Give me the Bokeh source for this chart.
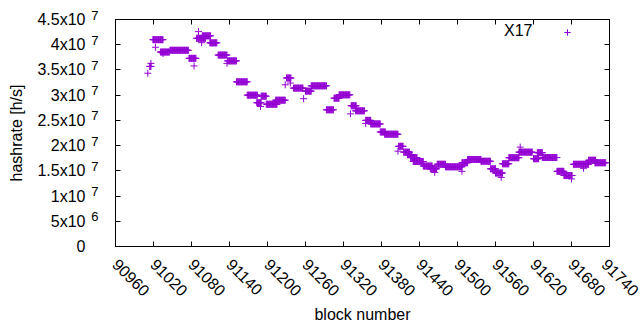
import math
from bokeh.plotting import figure
from bokeh.models import (Range1d, LinearAxis, FixedTicker, CustomJSTickFormatter,
                          ColumnDataSource, Legend, LegendItem)
from bokeh.embed import file_html
from bokeh.resources import INLINE

# ---- data ----
# runs of consecutive blocks with (approximately) the same hashrate, in MH/s
run_start = [91015, 91019, 91031, 91046, 91076, 91088, 91097, 91109, 91122, 91137,
             91151, 91168, 91183, 91190, 91198, 91213, 91230, 91241, 91260, 91269,
             91293, 91305, 91313, 91332, 91339, 91355, 91363, 91378, 91385, 91407,
             91415, 91421, 91426, 91430, 91446, 91457, 91468, 91481, 91507, 91516,
             91537, 91552, 91560, 91571, 91581, 91597, 91620, 91626, 91634, 91657,
             91668, 91683, 91707, 91717]
run_end = [91016, 91035, 91045, 91075, 91087, 91102, 91110, 91120, 91136, 91151,
           91168, 91184, 91190, 91198, 91215, 91228, 91237, 91256, 91269, 91293,
           91304, 91313, 91330, 91340, 91353, 91363, 91378, 91386, 91406, 91414,
           91424, 91428, 91436, 91446, 91460, 91467, 91481, 91507, 91516, 91537,
           91552, 91560, 91571, 91581, 91597, 91618, 91628, 91634, 91657, 91668,
           91681, 91707, 91718, 91734]
run_hashrate_M = [35.7, 41.0, 38.55, 38.9, 37.3, 41.27, 41.76, 40.37, 37.95, 36.8,
                  32.65, 30.0, 28.5, 29.8, 28.2, 29.0, 33.4, 31.4, 30.8, 31.85,
                  27.1, 29.4, 30.07, 27.9, 26.9, 25.0, 24.3, 22.7, 22.26, 19.86,
                  18.7, 18.2, 17.64, 16.85, 15.95, 15.4, 16.3, 15.8, 16.6, 17.25,
                  16.9, 15.4, 14.57, 16.4, 17.6, 18.7, 17.4, 18.6, 17.64, 14.9,
                  14.07, 16.3, 17.1, 16.6]
# isolated blocks
single_block = [91011, 91014, 91016, 91023, 91035, 91084, 91091, 91096, 91136, 91189,
                91228, 91236, 91257, 91331, 91355, 91406, 91464, 91507, 91569, 91599,
                91680, 91699]
single_hashrate_M = [34.35, 35.7, 36.3, 39.5, 38.25, 35.8, 42.6, 40.4, 36.3, 27.75,
                     32.05, 32.4, 29.3, 26.3, 24.4, 18.9, 14.7, 14.9, 13.7, 19.7,
                     13.4, 15.5]

series_name = "X17"
x_ticks = [90960, 91020, 91080, 91140, 91200, 91260, 91320, 91380, 91440, 91500,
           91560, 91620, 91680, 91740]
y_ticks = [0, 5e6, 1e7, 1.5e7, 2e7, 2.5e7, 3e7, 3.5e7, 4e7, 4.5e7]
y_tick_mantissa = ["0", "5x10", "1x10", "1.5x10", "2x10", "2.5x10", "3x10", "3.5x10", "4x10", "4.5x10"]
y_tick_exponent = ["", "6", "7", "7", "7", "7", "7", "7", "7", "7"]

# ---- expand runs into per-block points ----
blocks, hashrate = [], []
for s, e, v in zip(run_start, run_end, run_hashrate_M):
    for b in range(s, e + 1):
        blocks.append(b)
        hashrate.append(v * 1e6)
for b, v in zip(single_block, single_hashrate_M):
    blocks.append(b)
    hashrate.append(v * 1e6)

FONT = "Liberation Sans"
FS = "16px"
COLOR = "#9400D3"

p = figure(width=640, height=330, output_backend="svg", toolbar_location=None,
           x_range=Range1d(x_ticks[0], x_ticks[-1]), y_range=Range1d(y_ticks[0], y_ticks[-1]),
           y_axis_location=None,
           min_border_left=115, min_border_right=31, min_border_top=19, min_border_bottom=84)
p.grid.visible = False
p.outline_line_color = "black"
p.outline_line_width = 1
p.background_fill_color = "white"
p.border_fill_color = "white"

# bottom axis
xa = p.xaxis[0]
xa.ticker = FixedTicker(ticks=x_ticks)
xa.major_label_orientation = -math.pi / 4
xa.major_label_text_font = FONT
xa.major_label_text_font_size = FS
xa.major_label_text_color = "black"
xa.major_label_standoff = 15
xa.major_tick_in = 5
xa.major_tick_out = 0
xa.minor_tick_in = 0
xa.minor_tick_out = 0
xa.axis_line_color = "black"
xa.major_tick_line_color = "black"
xa.axis_label = "block number"
xa.axis_label_text_font = FONT
xa.axis_label_text_font_size = FS
xa.axis_label_text_font_style = "normal"
xa.axis_label_text_color = "black"
xa.axis_label_standoff = 2

blank = CustomJSTickFormatter(code="return ''")

# left side, from the frame outward:
# 1) ticks only, 2) superscript exponents (raised via an empty 2nd line), 3) mantissas + title
ya_ticks = LinearAxis(ticker=FixedTicker(ticks=y_ticks), formatter=blank,
                      major_label_text_font_size="0px", major_label_standoff=0,
                      major_tick_in=5, major_tick_out=0, minor_tick_in=0, minor_tick_out=0,
                      axis_line_color="black", major_tick_line_color="black")
p.add_layout(ya_ticks, "left")

exp_overrides = {t: (e + "\n " if e else "") for t, e in zip(y_ticks, y_tick_exponent)}
ya_exp = LinearAxis(ticker=FixedTicker(ticks=y_ticks), major_label_overrides=exp_overrides,
                    major_label_text_font=FONT, major_label_text_font_size="13px",
                    major_label_text_line_height=0.6,
                    major_label_text_color="black",
                    major_label_standoff=17,
                    major_tick_in=0, major_tick_out=0, minor_tick_in=0, minor_tick_out=0,
                    axis_line_color=None, major_tick_line_color=None)
p.add_layout(ya_exp, "left")

mant_overrides = {t: m for t, m in zip(y_ticks, y_tick_mantissa)}
ya_mant = LinearAxis(ticker=FixedTicker(ticks=y_ticks), major_label_overrides=mant_overrides,
                     major_label_text_font=FONT, major_label_text_font_size=FS,
                     major_label_text_color="black",
                     major_label_standoff=3,
                     major_tick_in=0, major_tick_out=0, minor_tick_in=0, minor_tick_out=0,
                     axis_line_color=None, major_tick_line_color=None,
                     axis_label="hashrate [h/s]", axis_label_text_font=FONT,
                     axis_label_text_font_size=FS, axis_label_text_font_style="normal",
                     axis_label_text_color="black", axis_label_standoff=9)
p.add_layout(ya_mant, "left")

# mirrored ticks (top/right)
for loc, tk in (("above", x_ticks), ("right", y_ticks)):
    ax = LinearAxis(ticker=FixedTicker(ticks=tk), formatter=blank,
                    major_label_text_font_size="0px", major_label_standoff=0,
                    major_tick_in=5, major_tick_out=0, minor_tick_in=0, minor_tick_out=0,
                    axis_line_color="black")
    p.add_layout(ax, loc)

# data
src = ColumnDataSource(dict(block=blocks, hashrate=hashrate))
r = p.scatter(x="block", y="hashrate", source=src, marker="cross", size=7,
              line_color=COLOR, line_width=1)

# key in gnuplot style: title text, then the sample to its right
dummy = p.scatter(x=[], y=[], marker="cross", size=7, line_alpha=0, fill_alpha=0)
key_text = Legend(items=[LegendItem(label=series_name, renderers=[dummy])],
                  location=(388, 206), glyph_width=1, glyph_height=16, label_height=16,
                  label_standoff=0, padding=0, margin=0, spacing=0,
                  label_text_font=FONT, label_text_font_size=FS, label_text_color="black",
                  background_fill_alpha=0, border_line_alpha=0)
key_mark = Legend(items=[LegendItem(label=" ", renderers=[r])],
                  location=(442, 206), glyph_width=20, glyph_height=16, label_height=16,
                  label_standoff=0, padding=0, margin=0, spacing=0,
                  label_text_font=FONT, label_text_font_size=FS,
                  background_fill_alpha=0, border_line_alpha=0)
p.add_layout(key_text)
p.add_layout(key_mark)

open("out.html", "w").write(file_html(p, INLINE))
